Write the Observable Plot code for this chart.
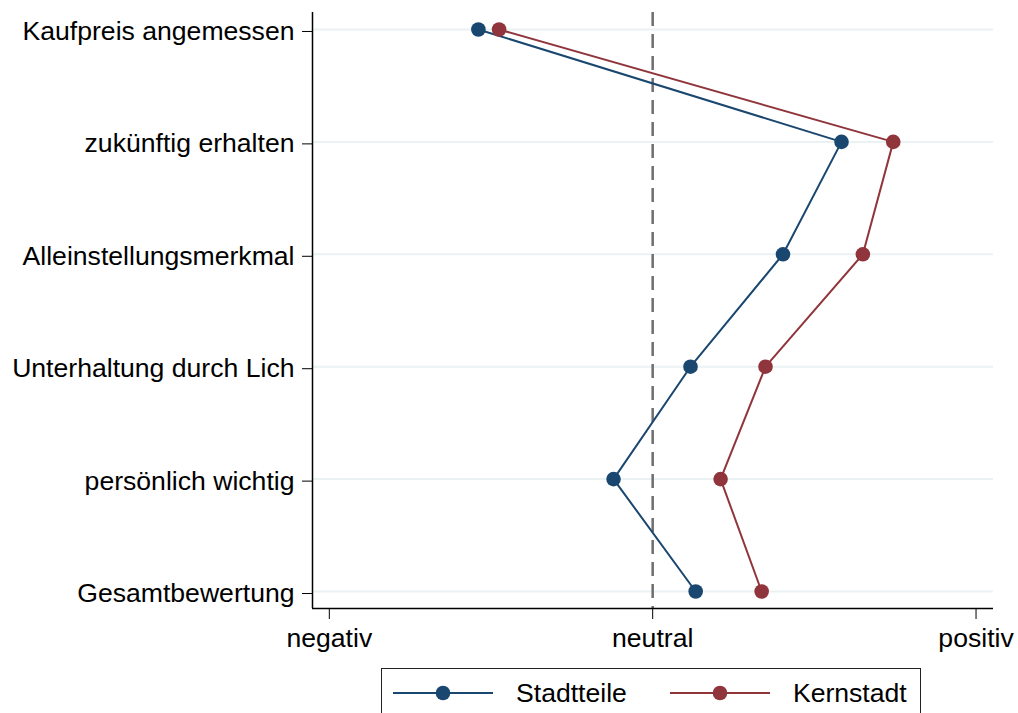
<!DOCTYPE html>
<html><head><meta charset="utf-8">
<script src="https://cdn.jsdelivr.net/npm/d3@7"></script>
<script src="https://cdn.jsdelivr.net/npm/@observablehq/plot@0.6"></script>
<style>
body{margin:0;background:#fff;font-family:"Liberation Sans",Arial,sans-serif;overflow:hidden}
#wrap{position:relative;width:1018px;height:713px}
#legend{position:absolute;left:381px;top:668px;width:540px;height:60px;border:1.5px solid #222;box-sizing:border-box;display:flex;align-items:flex-start;padding-left:11px;padding-top:7px}
.item{display:flex;align-items:center;height:34px}
.item span{font-size:26.6px;color:#000;margin-left:23px}
</style>
</head><body><div id="wrap"><div id="chart"></div><div id="legend"></div></div>
<script>
const categories = ["Kaufpreis angemessen","zukünftig erhalten","Alleinstellungsmerkmal","Unterhaltung durch Lich","persönlich wichtig","Gesamtbewertung"];
const xTickValues = [-1, 0, 1];
const xTickLabels = ["negativ","neutral","positiv"];
const seriesNames = ["Stadtteile","Kernstadt"];
const stadtteile = [-0.539, 0.584, 0.403, 0.117, -0.121, 0.133];
const kernstadt = [-0.475, 0.744, 0.650, 0.349, 0.210, 0.337];
const colors = ["#1a476f","#90353b"];

const data = [];
[stadtteile, kernstadt].forEach((vals, s) => vals.forEach((v, i) => data.push({series: seriesNames[s], idx: i, value: v})));
const idxs = d3.range(categories.length);
const yLo = -0.151, yHi = categories.length - 1 + 0.151;
const xLo = -1.052, xHi = 1.054;

const plot = Plot.plot({
  width: 1018, height: 663,
  marginLeft: 312, marginRight: 25, marginTop: 12, marginBottom: 55,
  style: {fontFamily: '"Liberation Sans", Arial, sans-serif', fontSize: "26.6px", background: "#fff", color: "#000"},
  x: {domain: [xLo, xHi]},
  y: {domain: [yLo, yHi], reverse: true},
  color: {domain: seriesNames, range: colors},
  marks: [
    Plot.ruleY(idxs, {stroke: "#eaf2f3", strokeWidth: 2}),
    Plot.ruleX([0], {stroke: "#6e6e6e", strokeWidth: 2.5, strokeDasharray: "14,8"}),
    Plot.ruleX([xLo], {stroke: "#000", strokeWidth: 1.5}),
    Plot.ruleY([yHi], {stroke: "#000", strokeWidth: 1.5}),
    Plot.axisY(idxs, {tickFormat: d => categories[d], tickSize: 10, tickPadding: 8, fontSize: 26.6, label: null, dy: 2}),
    Plot.axisX(xTickValues, {tickFormat: d => xTickLabels[xTickValues.indexOf(d)], tickSize: 11, tickPadding: 9, fontSize: 26.6, label: null}),
    Plot.line(data, {x: "value", y: "idx", stroke: "series", z: "series", strokeWidth: 2}),
    Plot.dot(data, {x: "value", y: "idx", fill: "series", r: 7.3})
  ]
});
document.getElementById("chart").appendChild(plot);

const legend = document.getElementById("legend");
seriesNames.forEach((name, i) => {
  const item = document.createElement("div");
  item.className = "item";
  if (i > 0) item.style.marginLeft = "43px";
  item.innerHTML = `<svg width="100" height="34"><line x1="0" x2="100" y1="17" y2="17" stroke="${colors[i]}" stroke-width="2"/><circle cx="50" cy="17" r="7.3" fill="${colors[i]}"/></svg><span>${name}</span>`;
  legend.appendChild(item);
});
</script>
</body></html>
